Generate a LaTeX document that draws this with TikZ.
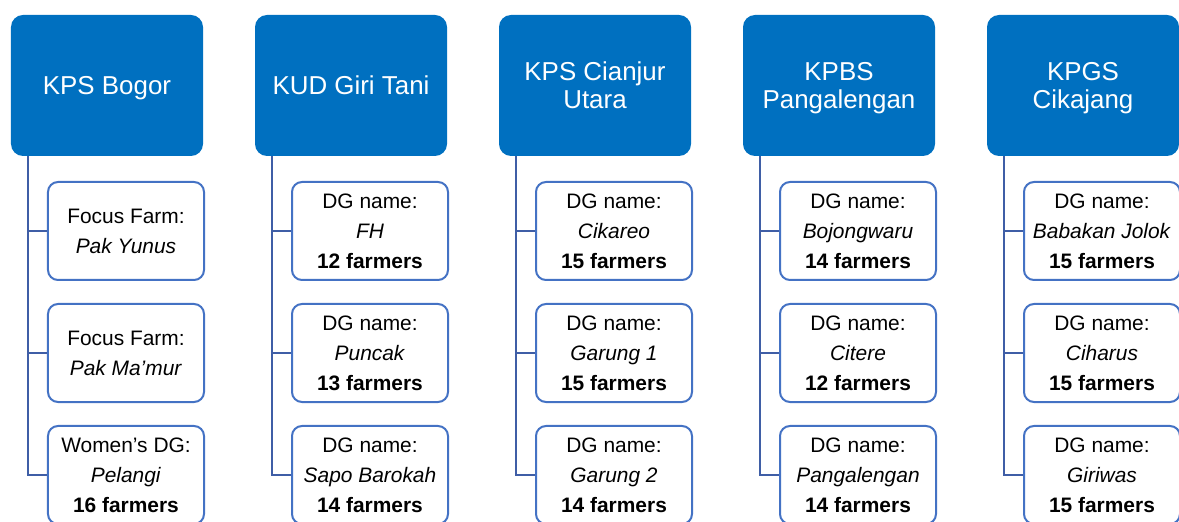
\documentclass[tikz,border=0pt]{standalone}
\usepackage{fontspec}
\setmainfont{Liberation Sans}
\definecolor{hdrblue}{HTML}{0070C0}
\definecolor{boxblue}{HTML}{4472C4}
\definecolor{linkblue}{HTML}{3F5EA6}
\newcommand{\nodepth}[1]{\raisebox{0pt}[\height][0pt]{#1}}
\tikzset{
  hdr/.style={fill=hdrblue, draw=none, rounded corners=12bp, minimum width=192bp,
    minimum height=141bp, text=white, align=center,
    font=\fontsize{26}{28}\selectfont, inner sep=0pt},
  kid/.style={draw=boxblue, line width=2bp, fill=white, rounded corners=10bp,
    minimum width=156bp, minimum height=98bp, align=center,
    font=\fontsize{21}{30}\selectfont, inner sep=0pt},
  conn/.style={draw=linkblue, line width=2.2bp}
}
\begin{document}
\begin{tikzpicture}[x=1bp,y=-1bp]
\useasboundingbox (0,0) rectangle (1179,522);
% header boxes
\node[hdr] (h1) at (107,85.5) {\nodepth{KPS Bogor}};
\node[hdr] (h2) at (351,85.5) {\nodepth{KUD Giri Tani}};
\node[hdr] (h3) at (595,85.5) {KPS Cianjur\\\nodepth{Utara}};
\node[hdr] (h4) at (839,85.5) {KPBS\\\nodepth{Pangalengan}};
\node[hdr] (h5) at (1083,85.5) {KPGS\\\nodepth{Cikajang}};
% column 1
\node[kid] (c11) at (126,231) {Focus Farm:\\\textit{Pak Yunus}};
\node[kid] (c12) at (126,353) {Focus Farm:\\\textit{Pak Ma’mur}};
\node[kid] (c13) at (126,475) {Women’s DG:\\\textit{Pelangi}\\\textbf{16 farmers}};
% column 2
\node[kid] (c21) at (370,231) {DG name:\\\textit{FH}\\\textbf{12 farmers}};
\node[kid] (c22) at (370,353) {DG name:\\\textit{Puncak}\\\textbf{13 farmers}};
\node[kid] (c23) at (370,475) {DG name:\\\textit{Sapo Barokah}\\\textbf{14 farmers}};
% column 3
\node[kid] (c31) at (614,231) {DG name:\\\textit{Cikareo}\\\textbf{15 farmers}};
\node[kid] (c32) at (614,353) {DG name:\\\textit{Garung 1}\\\textbf{15 farmers}};
\node[kid] (c33) at (614,475) {DG name:\\\textit{Garung 2}\\\textbf{14 farmers}};
% column 4
\node[kid] (c41) at (858,231) {DG name:\\\textit{Bojongwaru}\\\textbf{14 farmers}};
\node[kid] (c42) at (858,353) {DG name:\\\textit{Citere}\\\textbf{12 farmers}};
\node[kid] (c43) at (858,475) {DG name:\\\textit{Pangalengan}\\\textbf{14 farmers}};
% column 5
\node[kid] (c51) at (1102,231) {DG name:\\\textit{Babakan Jolok}\\\textbf{15 farmers}};
\node[kid] (c52) at (1102,353) {DG name:\\\textit{Ciharus}\\\textbf{15 farmers}};
\node[kid] (c53) at (1102,475) {DG name:\\\textit{Giriwas}\\\textbf{15 farmers}};
% connectors
\foreach \c in {1,...,5}{
  \foreach \k in {1,2,3}{
    \draw[conn] ([xshift=17bp]h\c.south west) |- (c\c\k.west);
  }
}
\end{tikzpicture}
\end{document}
